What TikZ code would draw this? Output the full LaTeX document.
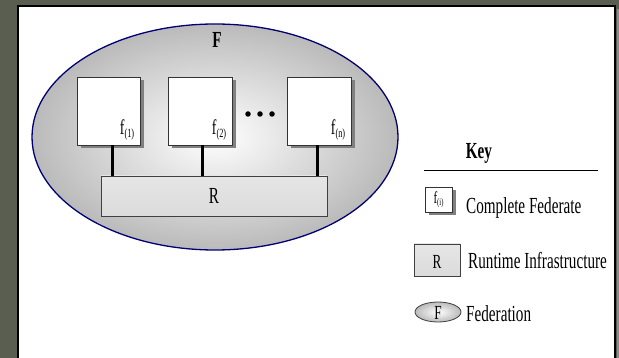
\documentclass[tikz,border=0pt]{standalone}
\usepackage{fontspec}
\setmainfont[FakeStretch=0.66]{Liberation Serif}
\usetikzlibrary{shapes.geometric,shadows}

% font helpers
\newcommand\bigtxt{\fontsize{23}{25}\selectfont}
\newcommand\fedlabel[1]{{\fontsize{21}{22}\selectfont f}\raisebox{-3pt}{\fontsize{12.5}{13}\selectfont (#1)}}

\begin{document}
\begin{tikzpicture}[x=1pt,y=-1pt,
  txt/.style={font=\bigtxt, inner sep=0pt},
  fedbox/.style={draw=black!80, line width=0.8pt, fill=white, rectangle, inner sep=0pt,
    drop shadow={shadow xshift=3.5pt, shadow yshift=-3.5pt, fill=black!50, opacity=1}},
  rtibox/.style={draw=black!75, line width=0.8pt, rectangle, inner sep=0pt,
    top color=black!10, middle color=white, bottom color=black!14},
  fedring/.style={ellipse, draw=blue!45!black, line width=1.3pt, inner sep=0pt,
    inner color=white, outer color=black!27},
  conn/.style={line width=3pt, black},
  dotmark/.style={circle, fill=black, inner sep=0pt, minimum size=5.5pt}
]
\useasboundingbox (0,0) rectangle (619,358);

% textured backdrop and the white panel
\fill[fill={rgb,255:red,90;green,94;blue,80}] (0,0) rectangle (619,358);
\fill[black!45] (617,9) rectangle (619,362);
\draw[line width=2pt, fill=white] (18,6) rectangle (615,364);

% federation
\node[fedring, minimum width=366pt, minimum height=226pt] (F) at (215,137) {};
\node[txt, font=\bigtxt\bfseries, anchor=base] (Flbl) at (217,48) {F};

% federates
\node[fedbox, minimum width=63pt, minimum height=68pt] (f1) at (108.5,111) {};
\node[fedbox, minimum width=64pt, minimum height=68pt] (f2) at (200,111) {};
\node[fedbox, minimum width=64pt, minimum height=68pt] (fn) at (319,111) {};
\node[inner sep=0pt, anchor=south east] (f1lbl) at ([xshift=-6pt,yshift=5pt]f1.south east) {\fedlabel{1}};
\node[inner sep=0pt, anchor=south east] (f2lbl) at ([xshift=-6pt,yshift=5pt]f2.south east) {\fedlabel{2}};
\node[inner sep=0pt, anchor=south east] (fnlbl) at ([xshift=-6pt,yshift=5pt]fn.south east) {\fedlabel{n}};

% ellipsis between federates
\node[dotmark] (d1) at (248,114) {};
\node[dotmark] (d2) at (260,114) {};
\node[dotmark] (d3) at (272,114) {};

% runtime infrastructure
\node[rtibox, minimum width=226pt, minimum height=40pt] (R) at (214,196) {};
\node[txt] (Rlbl) at (R.center) {R};

% connections to the RTI
\draw[conn] ([xshift=3.5pt]f1.south) -- ([xshift=3.5pt]f1.south |- R.north);
\draw[conn] ([xshift=2pt]f2.south) -- ([xshift=2pt]f2.south |- R.north);
\draw[conn] ([xshift=-2pt]fn.south) -- ([xshift=-2pt]fn.south |- R.north);

% key
\node[txt, font=\bigtxt\bfseries, anchor=base] (key) at (479,159) {Key};
\coordinate (keyL) at (424,171);
\coordinate (keyR) at (598,171);
\draw[line width=1pt] (keyL) -- (keyR);

\node[fedbox, minimum width=27pt, minimum height=25pt] (kf) at (438.5,199.5) {};
\node[inner sep=0pt, scale=0.8] (kflbl) at (kf.center) {\fedlabel{i}};
\node[txt, anchor=base west] (kftxt) at (466,214) {Complete Federate};

\node[rtibox, minimum width=46pt, minimum height=32pt] (kR) at (437,260) {};
\node[txt, font=\fontsize{20}{22}\selectfont] (kRlbl) at ([yshift=-2pt]kR.center) {R};
\node[txt, anchor=base west] (kRtxt) at (468,269) {Runtime Infrastructure};

\node[fedring, line width=0.8pt, draw=black!75, minimum width=46pt, minimum height=20pt] (kF) at (438,312) {};
\node[txt, font=\fontsize{20}{22}\selectfont] (kFlbl) at ([yshift=-1pt]kF.center) {F};
\node[txt, anchor=base west] (kFtxt) at (466,322) {Federation};
\end{tikzpicture}
\end{document}
